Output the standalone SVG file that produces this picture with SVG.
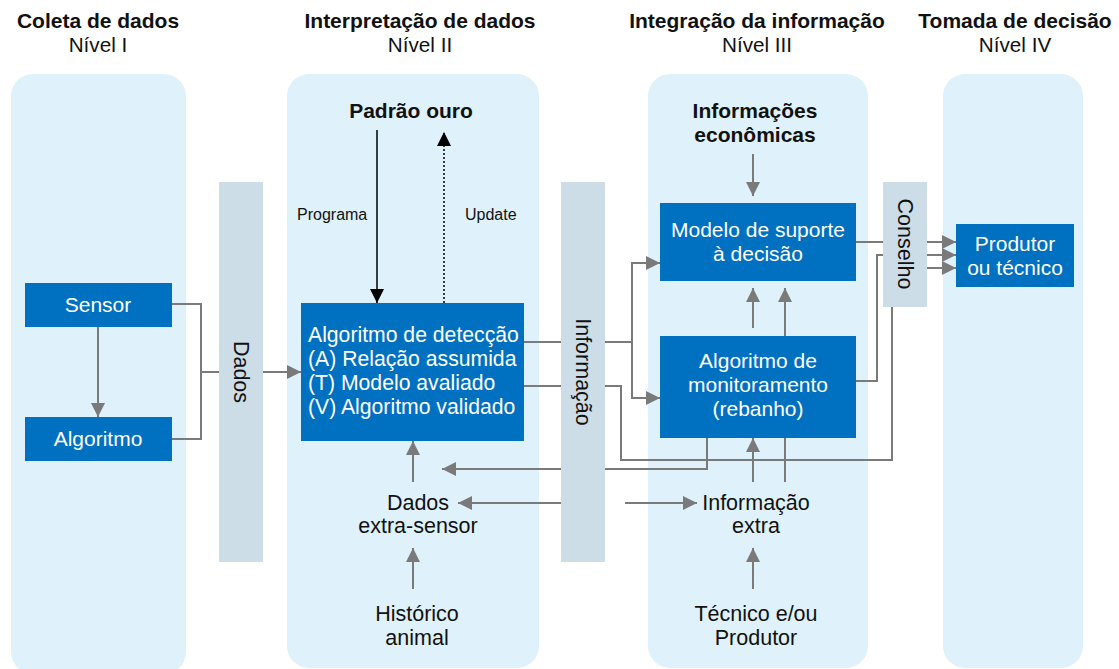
<svg xmlns="http://www.w3.org/2000/svg" width="1119" height="669" viewBox="0 0 1119 669">
<style>
text{font-family:"Liberation Sans",Arial,sans-serif;fill:#111}
.hd{font-size:21px;font-weight:bold;text-anchor:middle}
.lv{font-size:20.7px;text-anchor:middle}
.panel{fill:#dff1fb}
.bar{fill:#ccdde8}
.box{fill:#0070c0}
.bt{font-size:21px;fill:#fff;text-anchor:middle}
.bl{font-size:21.2px;fill:#fff}
.rt{font-size:21.5px;text-anchor:middle}
.ct{font-size:21.5px;text-anchor:middle}
.sm{font-size:16px}
.ln{fill:none;stroke:#7a7a7a;stroke-width:2}
.ar{fill:none;stroke:#7a7a7a;stroke-width:2;marker-end:url(#ga)}
.bk{fill:none;stroke:#000;stroke-width:1.5}
</style>
<defs>
<marker id="ga" markerUnits="userSpaceOnUse" markerWidth="14" markerHeight="14" refX="14" refY="7" orient="auto"><path d="M0,0 L14,7 L0,14 Z" fill="#7a7a7a"/></marker>
<marker id="ba" markerUnits="userSpaceOnUse" markerWidth="14" markerHeight="14" refX="14" refY="7" orient="auto"><path d="M0,0 L14,7 L0,14 Z" fill="#000"/></marker>
</defs>
<g id="headers">
<text class="hd" x="98" y="28">Coleta de dados</text>
<text class="lv" x="98" y="52">Nível I</text>
<text class="hd" x="420" y="28">Interpretação de dados</text>
<text class="lv" x="420" y="52">Nível II</text>
<text class="hd" x="757" y="28">Integração da informação</text>
<text class="lv" x="757" y="52">Nível III</text>
<text class="hd" x="1015" y="28">Tomada de decisão</text>
<text class="lv" x="1015" y="52">Nível IV</text>
</g>
<g id="panels">
<rect class="panel" x="11" y="74" width="175" height="600" rx="22"/>
<rect class="panel" x="287" y="74" width="252" height="594" rx="22"/>
<rect class="panel" x="648" y="74" width="220" height="594" rx="22"/>
<rect class="panel" x="943" y="74" width="140" height="594" rx="22"/>
</g>
<g id="bar-dados">
<rect class="bar" x="219" y="182" width="44" height="380"/>
<text class="rt" transform="translate(241,372) rotate(90)" dy="7.5">Dados</text>
</g>
<g id="bar-informacao">
<rect class="bar" x="561" y="182" width="44" height="380"/>
<text class="rt" transform="translate(583,372) rotate(90)" dy="7.5">Informação</text>
</g>
<g id="bar-conselho">
<rect class="bar" x="883" y="182" width="44" height="125"/>
<text class="rt" transform="translate(905,244) rotate(90)" dy="7.5">Conselho</text>
</g>
<g id="sensor">
<rect class="box" x="25" y="283" width="147" height="44"/>
<text class="bt" x="98" y="312">Sensor</text>
</g>
<g id="algoritmo">
<rect class="box" x="25" y="417" width="147" height="44"/>
<text class="bt" x="98" y="446">Algoritmo</text>
</g>
<g id="deteccao">
<rect class="box" x="301" y="303" width="223" height="138"/>
<text class="bl" x="308" y="342">Algoritmo de detecção</text>
<text class="bl" x="308" y="366">(A) Relação assumida</text>
<text class="bl" x="308" y="390">(T) Modelo avaliado</text>
<text class="bl" x="308" y="414">(V) Algoritmo validado</text>
</g>
<g id="padrao-ouro">
<text class="hd" x="411" y="118">Padrão ouro</text>
</g>
<g id="dados-extra">
<text class="ct" x="418" y="510">Dados</text>
<text class="ct" x="418" y="533">extra-sensor</text>
</g>
<g id="historico">
<text class="ct" x="417" y="621">Histórico</text>
<text class="ct" x="417" y="645">animal</text>
</g>
<g id="info-economicas">
<text class="hd" x="755" y="118">Informações</text>
<text class="hd" x="755" y="142">econômicas</text>
</g>
<g id="modelo">
<rect class="box" x="660" y="203" width="196" height="78"/>
<text class="bt" x="758" y="237">Modelo de suporte</text>
<text class="bt" x="758" y="261">à decisão</text>
</g>
<g id="monitoramento">
<rect class="box" x="660" y="336" width="196" height="102"/>
<text class="bt" x="758" y="368">Algoritmo de</text>
<text class="bt" x="758" y="392">monitoramento</text>
<text class="bt" x="758" y="416">(rebanho)</text>
</g>
<g id="info-extra">
<text class="ct" x="756" y="510">Informação</text>
<text class="ct" x="756" y="533">extra</text>
</g>
<g id="tecnico">
<text class="ct" x="756" y="621">Técnico e/ou</text>
<text class="ct" x="756" y="645">Produtor</text>
</g>
<g id="produtor">
<rect class="box" x="956" y="224" width="118" height="63"/>
<text class="bt" x="1015" y="251">Produtor</text>
<text class="bt" x="1015" y="275">ou técnico</text>
</g>
<g id="connectors">
<line class="ar" x1="98" y1="327" x2="98" y2="417"/>
<polyline class="ln" points="172,304 201,304 201,439 172,439"/>
<line class="ln" x1="201" y1="372" x2="219" y2="372"/>
<line class="ar" x1="263" y1="372" x2="301" y2="372"/>
<line class="bk" x1="377" y1="130" x2="377" y2="303" marker-end="url(#ba)"/>
<line class="bk" x1="444" y1="303" x2="444" y2="132" stroke-dasharray="2,2" marker-end="url(#ba)"/>
<text class="sm" x="297" y="220">Programa</text>
<text class="sm" x="465" y="220">Update</text>
<line class="ln" x1="524" y1="342" x2="561" y2="342"/>
<line class="ln" x1="605" y1="342" x2="632" y2="342"/>
<line class="ln" x1="632" y1="263" x2="632" y2="398"/>
<line class="ar" x1="631" y1="263" x2="660" y2="263"/>
<line class="ar" x1="631" y1="398" x2="660" y2="398"/>
<line class="ln" x1="524" y1="386" x2="561" y2="386"/>
<polyline class="ln" points="605,386 621,386 621,460 892,460 892,307"/>
<polyline class="ln" points="707,438 707,469 605,469"/>
<line class="ar" x1="561" y1="469" x2="442" y2="469"/>
<line class="ar" x1="561" y1="503" x2="458" y2="503"/>
<line class="ar" x1="625" y1="503" x2="697" y2="503"/>
<line class="ar" x1="413" y1="589" x2="413" y2="548"/>
<line class="ar" x1="413" y1="482" x2="413" y2="441"/>
<line class="ar" x1="753" y1="589" x2="753" y2="548"/>
<line class="ar" x1="753" y1="482" x2="753" y2="438"/>
<line class="ln" x1="785" y1="482" x2="785" y2="438"/>
<line class="ar" x1="753" y1="328" x2="753" y2="288"/>
<line class="ar" x1="785" y1="336" x2="785" y2="288"/>
<line class="ar" x1="753" y1="154" x2="753" y2="196"/>
<line class="ln" x1="856" y1="242" x2="883" y2="242"/>
<polyline class="ln" points="856,381 877,381 877,255 883,255"/>
<line class="ar" x1="927" y1="242" x2="956" y2="242"/>
<line class="ar" x1="927" y1="255" x2="956" y2="255"/>
<line class="ar" x1="927" y1="268" x2="956" y2="268"/>
</g>
</svg>
